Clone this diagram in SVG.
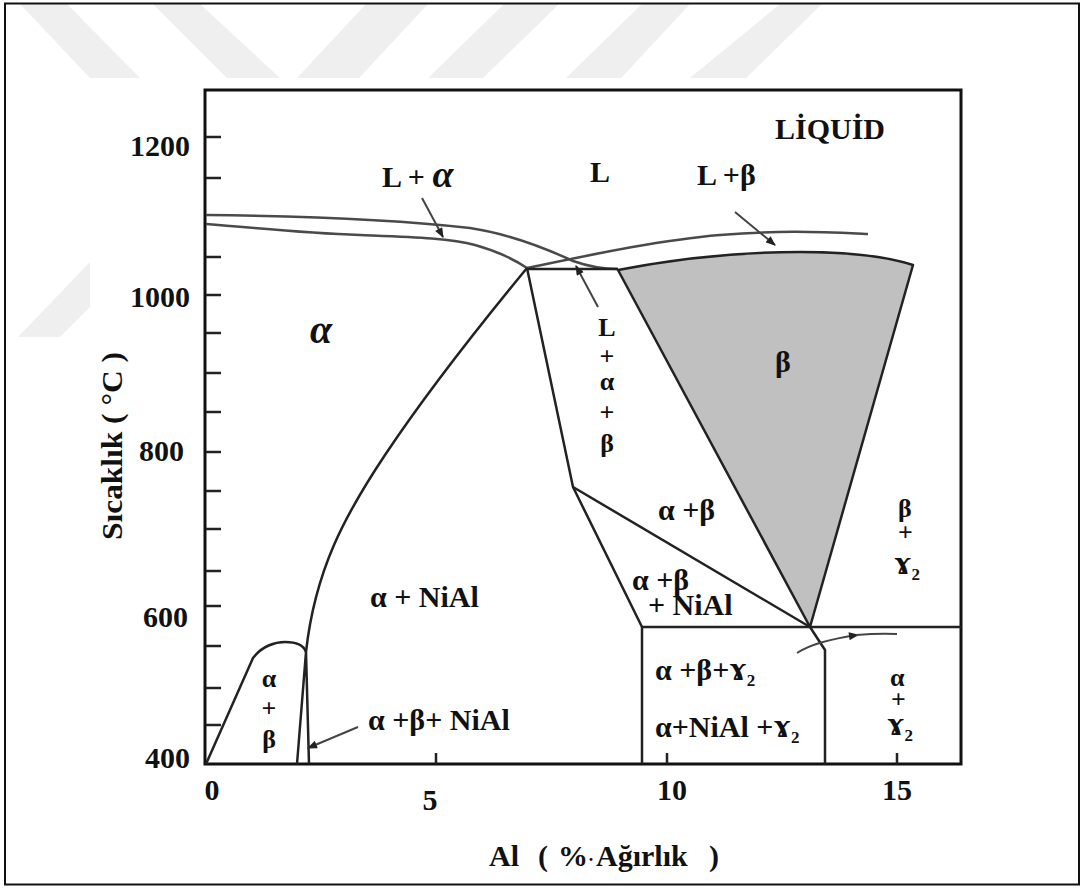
<svg xmlns="http://www.w3.org/2000/svg" width="1083" height="888" viewBox="0 0 1083 888">
<style>
.t{font-family:"Liberation Serif","Times New Roman","DejaVu Serif",serif;font-weight:bold;font-size:30px;fill:#111}
.s{font-size:26px}
.m{text-anchor:middle}
.e{text-anchor:end}
.wm{fill:#efefef}
.ax{stroke:#111;stroke-width:3;fill:none}
.tk{stroke:#222;stroke-width:2.5}
.liq{stroke:#4a4a4a;stroke-width:2.5;fill:none}
.ph{stroke:#222;stroke-width:2.5;fill:none;stroke-linejoin:round}
.ar{stroke:#444;stroke-width:2;fill:none}
.sub{font-size:17px}
.g{font-size:34px}
</style>
<defs>
<marker id="ah" viewBox="0 0 10 8" refX="9" refY="4" markerWidth="11" markerHeight="8" markerUnits="userSpaceOnUse" orient="auto">
<path d="M0,0 L10,4 L0,8 Z" fill="#222"/>
</marker>
</defs>
<rect x="0" y="0" width="1083" height="888" fill="#fff"/>
<g id="watermark">
<polygon class="wm" points="20,4 67,4 140,78 90,78"/>
<polygon class="wm" points="153,4 200,4 280,78 227,78"/>
<polygon class="wm" points="366,4 428,4 359,78 297,78"/>
<polygon class="wm" points="504,4 559,4 483,78 428,78"/>
<polygon class="wm" points="642,4 690,4 621,78 566,78"/>
<polygon class="wm" points="780,4 822,4 746,78 690,78"/>
<polygon class="wm" points="90,262 90,307 60,337 18,337"/>
</g>
<rect x="5" y="3.5" width="1074" height="881" fill="none" stroke="#111" stroke-width="2"/>
<g id="axes">
<path class="ax" d="M205,90 H961 V764 H205 Z"/>
<path class="tk" d="M206,137 H221 M206,178 H221 M206,257 H221 M206,295 H221 M206,333 H221 M206,373 H221 M206,412 H221 M206,452 H221 M206,491 H221 M206,529 H221 M206,571 H221 M206,606 H221 M206,646 H221 M206,688 H221 M206,725 H221 M436,764 V753 M667,764 V753 M897,764 V753"/>
<text class="t e" x="190" y="156">1200</text>
<text class="t e" x="190" y="307">1000</text>
<text class="t e" x="184" y="461">800</text>
<text class="t e" x="188" y="627">600</text>
<text class="t e" x="190" y="768">400</text>
<text class="t m" x="212" y="800">0</text>
<text class="t m" x="430" y="810">5</text>
<text class="t m" x="672" y="800">10</text>
<text class="t m" x="897" y="800">15</text>
<text class="t" transform="translate(122,540) rotate(-90)" x="0" y="0" textLength="188" lengthAdjust="spacingAndGlyphs">Sıcaklık ( °C )</text>
<text class="t" y="866"><tspan x="489">Al</tspan><tspan x="538">(</tspan><tspan x="558">%</tspan><tspan x="588" style="font-size:18px">·</tspan><tspan x="596">Ağırlık</tspan><tspan x="709">)</tspan></text>
</g>
<g id="beta-region">
<path d="M618,270 C 680,258 740,252 800,252 C 850,252 885,256 913,265 L810,627 Z" fill="#c0c0c0" stroke="#222" stroke-width="2.5" stroke-linejoin="round"/>
</g>
<g id="phase-lines">
<path class="liq" d="M206,215 C 300,216 400,220 470,228 C 510,234 545,248 573,261 C 590,267 605,269 618,269"/>
<path class="liq" d="M206,224 C 260,228 300,233 360,235 C 410,237 450,238 475,245 C 500,252 515,260 527,268"/>
<path class="liq" d="M527,268 C 590,255 660,240 720,235 S 820,232 868,234"/>
<path class="ph" d="M527,269 H618"/>
<path class="ph" d="M527,268 L573,487 L642,627 V764"/>
<path class="ph" d="M573,487 L810,627"/>
<path class="ph" d="M642,627 H961"/>
<path class="ph" d="M810,627 L825,650 V764"/>
<path class="ph" d="M527,268 C 480,325 425,395 385,455 C 345,515 315,570 306,652"/>
<path class="ph" d="M306,652 L297,764 M306,652 L309,764"/>
<path class="ph" d="M206,764 L253,658 C 262,646 275,642 285,642 C 297,642 304,646 306,652"/>
</g>
<g id="connectors">
<path class="ar" d="M422,198 L443,237" marker-end="url(#ah)"/>
<path class="ar" d="M735,212 L775,245" marker-end="url(#ah)"/>
<path class="ar" d="M598,307 L576,266" marker-end="url(#ah)"/>
<path class="ar" d="M358,727 L308,748" marker-end="url(#ah)"/>
<path class="ar" d="M797,653 Q 815,641 858,635" marker-end="url(#ah)"/>
<path class="ar" d="M856,635 Q 880,633 897,634"/>
</g>
<g id="labels">
<text id="liquid" class="t" x="775" y="139">LİQUİD</text>
<text id="l-alpha" class="t" x="382" y="187">L + <tspan style="font-size:38px;font-style:italic">α</tspan></text>
<text id="l" class="t m" x="600" y="182">L</text>
<text id="l-beta" class="t" x="697" y="185">L +β</text>
<text id="alpha" class="t m" x="321" y="343" style="font-size:40px;font-style:italic">α</text>
<text id="l-alpha-beta" class="t m s"><tspan x="607" y="336">L</tspan><tspan x="607" y="365">+</tspan><tspan x="607" y="390">α</tspan><tspan x="607" y="421">+</tspan><tspan x="607" y="452">β</tspan></text>
<text id="beta" class="t m" x="783" y="372">β</text>
<text id="alpha-beta" class="t" x="658" y="520">α +β</text>
<text id="alpha-beta-nial" class="t"><tspan x="632" y="590">α +β</tspan><tspan x="648" y="615">+ NiAl</tspan></text>
<text id="alpha-nial" class="t" x="370" y="607">α + NiAl</text>
<text id="alpha-beta-nial2" class="t" x="368" y="730">α +β+ NiAl</text>
<text id="dome" class="t m s"><tspan x="269" y="687">α</tspan><tspan x="269" y="717">+</tspan><tspan x="269" y="748">β</tspan></text>
<text id="abg" class="t" x="655" y="680">α +β+<tspan class="g">ɤ</tspan><tspan class="sub" dy="6">2</tspan></text>
<text id="angam" class="t" x="655" y="737">α+NiAl +<tspan class="g">ɤ</tspan><tspan class="sub" dy="6">2</tspan></text>
<text id="alpha-gamma" class="t s"><tspan x="890" y="686">α</tspan><tspan x="891" y="708">+</tspan><tspan x="887" y="735" class="g">ɤ</tspan><tspan class="sub" dy="6">2</tspan></text>
<text id="beta-gamma" class="t s"><tspan x="898" y="517">β</tspan><tspan x="898" y="541">+</tspan><tspan x="894" y="574" class="g">ɤ</tspan><tspan class="sub" dy="6">2</tspan></text>
</g>
</svg>
